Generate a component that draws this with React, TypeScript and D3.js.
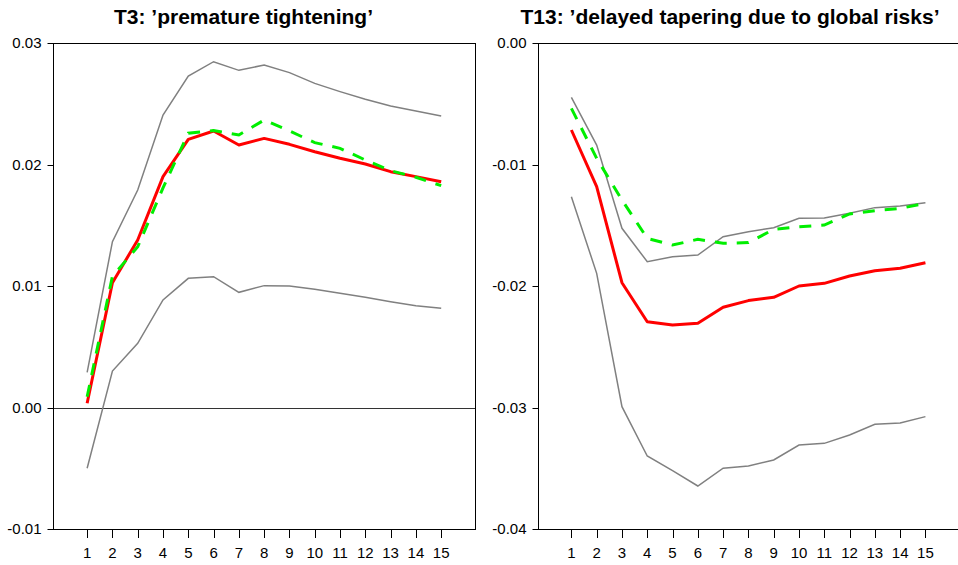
import React from "react";
import * as d3 from "d3";

const horizons = [1, 2, 3, 4, 5, 6, 7, 8, 9, 10, 11, 12, 13, 14, 15];

// Panel 1: T3 'premature tightening'
const t3Median = [0.00035, 0.01027, 0.01379, 0.019, 0.02207, 0.02276, 0.0216, 0.02215, 0.02166, 0.02105, 0.02051, 0.02004, 0.01941, 0.019, 0.01858];
const t3Alt = [0.00089, 0.0108, 0.01323, 0.01807, 0.02257, 0.02279, 0.02243, 0.02366, 0.02276, 0.0218, 0.02133, 0.02037, 0.01949, 0.01895, 0.01826];
const t3Upper = [0.00289, 0.01365, 0.0179, 0.02407, 0.02728, 0.02846, 0.02775, 0.02819, 0.02756, 0.02668, 0.026, 0.02537, 0.02481, 0.0244, 0.02399];
const t3Lower = [-0.005, 0.003, 0.00528, 0.00885, 0.01063, 0.01077, 0.00948, 0.01003, 0.01, 0.00973, 0.0094, 0.00907, 0.00871, 0.00838, 0.00816];
const t3YTicks = [-0.01, 0.0, 0.01, 0.02, 0.03];

// Panel 2: T13 'delayed tapering due to global risks'
const t13Median = [-0.00716, -0.01183, -0.01973, -0.02294, -0.02321, -0.02307, -0.02175, -0.0212, -0.02093, -0.02, -0.01978, -0.01918, -0.01874, -0.01854, -0.01808];
const t13Alt = [-0.00538, -0.00949, -0.01292, -0.01608, -0.01663, -0.01616, -0.01649, -0.01643, -0.01534, -0.01512, -0.01498, -0.01407, -0.0138, -0.01361, -0.0132];
const t13Upper = [-0.00447, -0.0084, -0.01525, -0.018, -0.01759, -0.01745, -0.01594, -0.01553, -0.0152, -0.01443, -0.0144, -0.01402, -0.01355, -0.01342, -0.01314];
const t13Lower = [-0.01265, -0.01896, -0.02993, -0.03399, -0.0352, -0.03646, -0.035, -0.03481, -0.03432, -0.03309, -0.03295, -0.03226, -0.03138, -0.03128, -0.03075];
const t13YTicks = [-0.04, -0.03, -0.02, -0.01, 0.0];

const FONT = "'Liberation Sans', Arial, Helvetica, sans-serif";

type PanelProps = {
  title: string;
  titleX: number;
  left: number;
  xMin: number;
  yDomain: [number, number];
  yTicks: number[];
  median: number[];
  alt: number[];
  upper: number[];
  lower: number[];
  zeroLine: boolean;
};

const TOP = 43;
const BOTTOM = 529;
const WIDTH = 421.5;

function Panel(p: PanelProps) {
  const x = d3.scaleLinear().domain([p.xMin, p.xMin + 16.667]).range([p.left, p.left + WIDTH]);
  const y = d3.scaleLinear().domain(p.yDomain).range([BOTTOM, TOP]);
  const line = (vals: number[]) =>
    d3.line<number>().x((_, i) => x(horizons[i])).y((v) => y(v))(vals) || "";
  const L = Math.round(p.left) + 0.5;
  const R = Math.round(p.left + WIDTH) + 0.5;
  return (
    <g>
      <text x={p.titleX} y={24} textAnchor="middle" fontFamily={FONT} fontWeight="bold" fontSize={21}>
        {p.title}
      </text>
      {p.zeroLine && (
        <line x1={L} x2={R} y1={Math.round(y(0)) + 0.5} y2={Math.round(y(0)) + 0.5} stroke="#333" strokeWidth={1} />
      )}
      <path d={line(p.upper)} fill="none" stroke="#808080" strokeWidth={1.5} />
      <path d={line(p.lower)} fill="none" stroke="#808080" strokeWidth={1.5} />
      <path d={line(p.median)} fill="none" stroke="#ff0000" strokeWidth={3} strokeLinejoin="round" />
      <path d={line(p.alt)} fill="none" stroke="#00ee00" strokeWidth={3} strokeDasharray="12,10" />
      <rect x={L} y={TOP + 0.5} width={R - L} height={BOTTOM - TOP} fill="none" stroke="#000" strokeWidth={1} />
      {p.yTicks.map((t) => (
        <g key={t}>
          <line x1={L - 6} x2={L} y1={Math.round(y(t)) + 0.5} y2={Math.round(y(t)) + 0.5} stroke="#000" />
          <text x={L - 12} y={y(t) + 5} textAnchor="end" fontFamily={FONT} fontSize={15}>
            {d3.format(".2f")(t).replace("−", "-")}
          </text>
        </g>
      ))}
      {horizons.map((h) => (
        <g key={h}>
          <line x1={Math.round(x(h)) + 0.5} x2={Math.round(x(h)) + 0.5} y1={BOTTOM + 0.5} y2={BOTTOM + 9} stroke="#000" />
          <text x={x(h)} y={557.5} textAnchor="middle" fontFamily={FONT} fontSize={15}>
            {h}
          </text>
        </g>
      ))}
    </g>
  );
}

export default function App() {
  return (
    <svg width={958} height={565} style={{ position: "absolute", left: 0, top: 0, background: "#fff" }}>
      <rect width={958} height={565} fill="#fff" />
      <Panel
        title="T3: ’premature tightening’"
        titleX={243.5}
        left={53}
        xMin={-0.35}
        yDomain={[-0.01, 0.03]}
        yTicks={t3YTicks}
        median={t3Median}
        alt={t3Alt}
        upper={t3Upper}
        lower={t3Lower}
        zeroLine={true}
      />
      <Panel
        title="T13: ’delayed tapering due to global risks’"
        titleX={730}
        left={538}
        xMin={-0.32}
        yDomain={[-0.04, 0]}
        yTicks={t13YTicks}
        median={t13Median}
        alt={t13Alt}
        upper={t13Upper}
        lower={t13Lower}
        zeroLine={false}
      />
    </svg>
  );
}
